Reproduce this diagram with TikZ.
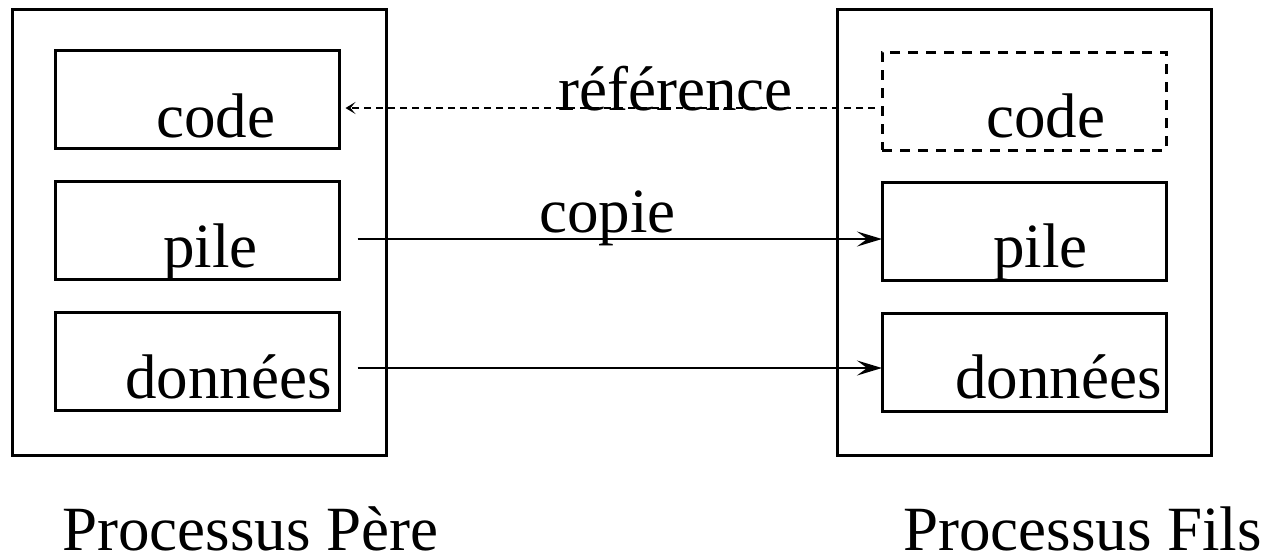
\documentclass[tikz,border=0pt]{standalone}
\usepackage{fontspec}
\setmainfont{Liberation Serif}
\usetikzlibrary{arrows.meta}
\begin{document}
\begin{tikzpicture}[x=1pt,y=-1pt,
  outerbox/.style={draw,line width=3pt,outer sep=0pt,inner sep=0pt,
    minimum width=374pt,minimum height=446pt},
  segbox/.style={draw,line width=3pt,outer sep=0pt,inner sep=0pt,
    minimum width=284pt,minimum height=98pt},
  ghostbox/.style={segbox,dash pattern=on 10pt off 8pt},
  lbl/.style={anchor=base west,inner sep=0pt,font=\fontsize{63pt}{70pt}\selectfont},
  copyarrow/.style={line width=2pt,-{Stealth[length=25pt,width=15pt,inset=10pt]}},
  refarrow/.style={line width=2pt,dash pattern=on 7pt off 5pt,
    -{Stealth[length=10pt,width=12pt,inset=5pt]}}]
\useasboundingbox (0,0) rectangle (1268,555);

% parent process
\node[outerbox] (louter) at (199,232) {};
\node[segbox] (lcode) at (197.5,99.5) {};
\node[segbox] (lpile) at (197.5,230.5) {};
\node[segbox] (ldata) at (197.5,361.5) {};
\node[lbl] (lcodet) at (156,137) {code};
\node[lbl] (lpilet) at (163,267) {pile};
\node[lbl] (ldatat) at (125,398) {données};

% child process
\node[outerbox] (router) at (1024,232) {};
\node[ghostbox] (rcode) at (1024,101) {};
\node[segbox] (rpile) at (1024,231.5) {};
\node[segbox] (rdata) at (1024,362.5) {};
\node[lbl] (rcodet) at (986,137) {code};
\node[lbl] (rpilet) at (993,267) {pile};
\node[lbl] (rdatat) at (955,398) {données};

% captions
\node[lbl] (ltitle) at (62,550) {Processus Père};
\node[lbl] (rtitle) at (903,550) {Processus Fils};

% connectors
\coordinate (refstart) at ([xshift=-7pt,yshift=-7pt]rcode.west);
\draw[refarrow] (refstart) -- ([xshift=6pt]refstart -| lcode.east);
\coordinate (pilestart) at ([xshift=18pt,yshift=-8.5pt]lpile.east);
\draw[copyarrow] (pilestart) -- (pilestart -| rpile.west);
\coordinate (datastart) at ([xshift=18pt,yshift=-6.5pt]ldata.east);
\draw[copyarrow] (datastart) -- (datastart -| rdata.west);

% connector labels
\node[lbl] (reflabel) at (558,110) {référence};
\node[lbl] (copylabel) at (539,232) {copie};
\end{tikzpicture}
\end{document}
